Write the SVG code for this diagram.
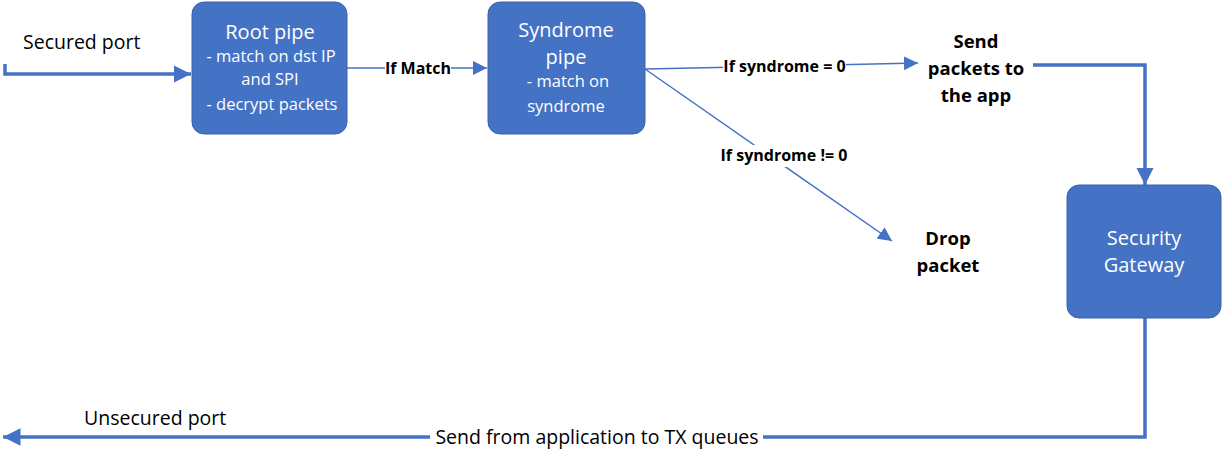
<svg xmlns="http://www.w3.org/2000/svg" width="1222" height="449" viewBox="0 0 1222 449">
<defs>
<style>
.box{fill:#4472C4;stroke:#3A63AC;stroke-width:1}
.wt{font-family:"Open Sans","Liberation Sans",sans-serif;fill:#fff;text-anchor:middle}
.bt{font-family:"Open Sans","Liberation Sans",sans-serif;fill:#000;text-anchor:middle;font-weight:bold}
.nt{font-family:"Open Sans","Liberation Sans",sans-serif;fill:#000}
.thick{fill:none;stroke:#4472C4;stroke-width:3.5}
.thin{fill:none;stroke:#4472C4;stroke-width:1.5}
</style>
<marker id="ah" viewBox="0 0 10 10" refX="10" refY="5" markerWidth="14" markerHeight="14" markerUnits="userSpaceOnUse" orient="auto"><path d="M0,0 L10,5 L0,10 z" fill="#4472C4"/></marker>
<marker id="ahb" viewBox="0 0 10 10" refX="10" refY="5" markerWidth="5" markerHeight="5" orient="auto"><path d="M0,0 L10,5 L0,10 z" fill="#4472C4"/></marker>
</defs>
<rect width="1222" height="449" fill="#fff"/>
<g id="connectors">
<path class="thick" d="M5,64 V74 H191" marker-end="url(#ahb)"/>
<path class="thin" d="M347,68 H487" marker-end="url(#ah)"/>
<path class="thin" d="M645,69 L918,63" marker-end="url(#ah)"/>
<path class="thin" d="M645,69 L892,241" marker-end="url(#ah)"/>
<path class="thick" d="M1033,65 H1145 V185" marker-end="url(#ahb)"/>
<path class="thick" d="M1145,318 V437 H3" marker-end="url(#ahb)"/>
<rect x="385" y="58" width="66" height="20" fill="#fff"/>
<text class="bt" x="418" y="74" font-size="16">If Match</text>
<rect x="723" y="56" width="123" height="20" fill="#fff"/>
<text class="bt" x="784.5" y="72" font-size="16">If syndrome = 0</text>
<rect x="704" y="145" width="159" height="22" fill="#fff"/>
<text class="bt" x="784" y="161" font-size="16">If syndrome != 0</text>
<rect x="430" y="426" width="333" height="22" fill="#fff"/>
<text class="nt" x="597" y="444" font-size="19.5" text-anchor="middle">Send from application to TX queues</text>
</g>
<g id="secured-port"><text class="nt" x="23" y="49" font-size="19.5">Secured port</text></g>
<g id="unsecured-port"><text class="nt" x="84" y="425" font-size="19.5">Unsecured port</text></g>
<g id="root-pipe">
<rect class="box" x="192" y="2" width="155" height="132" rx="12"/>
<text class="wt" x="270" y="39" font-size="20">Root pipe</text>
<text class="wt" x="271" y="62" font-size="16.5">- match on dst IP</text>
<text class="wt" x="270" y="85" font-size="16.5">and SPI</text>
<text class="wt" x="272" y="110" font-size="16.5">- decrypt packets</text>
</g>
<g id="syndrome-pipe">
<rect class="box" x="488" y="2" width="157" height="132" rx="12"/>
<text class="wt" x="566" y="37" font-size="20">Syndrome</text>
<text class="wt" x="566" y="64" font-size="20">pipe</text>
<text class="wt" x="568" y="87" font-size="16.5">- match on</text>
<text class="wt" x="566" y="112" font-size="16.5">syndrome</text>
</g>
<g id="send-to-app">
<text class="bt" x="976" y="48" font-size="18.5">Send</text>
<text class="bt" x="976" y="75" font-size="18.5">packets to</text>
<text class="bt" x="976" y="102" font-size="18.5">the app</text>
</g>
<g id="drop-packet">
<text class="bt" x="948" y="245" font-size="18.5">Drop</text>
<text class="bt" x="948" y="272" font-size="18.5">packet</text>
</g>
<g id="security-gateway">
<rect class="box" x="1067" y="185" width="154" height="133" rx="12"/>
<text class="wt" x="1144" y="245" font-size="20">Security</text>
<text class="wt" x="1144" y="272" font-size="20">Gateway</text>
</g>
</svg>
